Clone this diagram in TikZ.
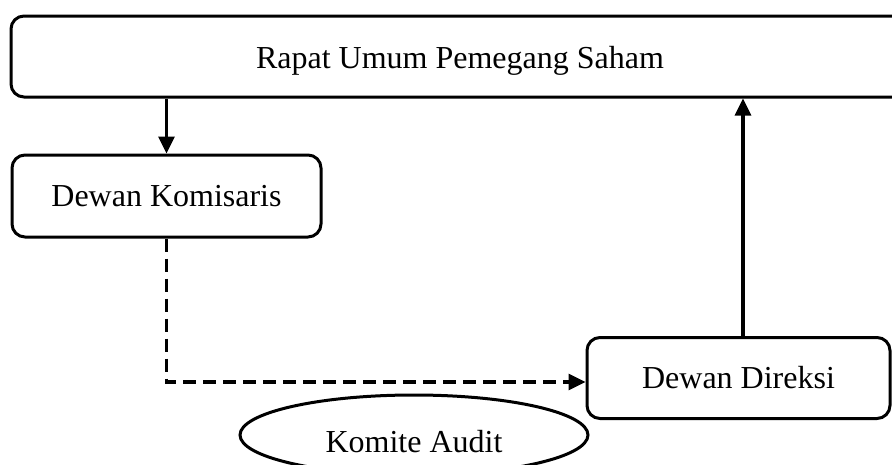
\documentclass[tikz,border=0pt]{standalone}
\usepackage{fontspec}
\setmainfont{Liberation Serif}
\usetikzlibrary{arrows.meta,shapes.geometric}
\begin{document}
\begin{tikzpicture}[x=1pt,y=-1pt,
  box/.style={draw,line width=3pt,rounded corners=13pt,inner sep=0pt,
    font=\fontsize{32}{36}\selectfont},
  oval/.style={draw,ellipse,line width=3pt,inner sep=0pt,
    font=\fontsize{32}{36}\selectfont},
  arr/.style={line width=3.3pt,-{Triangle[length=17pt,width=16pt]}},
  darr/.style={arr,dash pattern=on 13pt off 7pt}]
\clip (0,0) rectangle (892,464);
\fill[white] (0,0) rectangle (892,464);
\node[box,minimum width=898pt,minimum height=81pt] (rups) at (460,56.5) {\raisebox{-4pt}[\height][\depth]{Rapat Umum Pemegang Saham}};
\node[box,minimum width=309pt,minimum height=82pt] (dk) at (166.5,196) {Dewan Komisaris};
\node[box,minimum width=303pt,minimum height=81pt] (dd) at (738.5,378) {Dewan Direksi};
\node[oval,minimum width=348pt,minimum height=80pt] (ka) at (414,435) {\raisebox{-7pt}[\height][\depth]{Komite Audit}};
\draw[arr] (rups.south -| dk.north) -- (dk.north);
\draw[darr] (dk.south) |- ([yshift=-4pt]dd.west);
\draw[arr] ([xshift=4.5pt]dd.north) -- ([xshift=4.5pt]dd.north |- rups.south);
\end{tikzpicture}
\end{document}
